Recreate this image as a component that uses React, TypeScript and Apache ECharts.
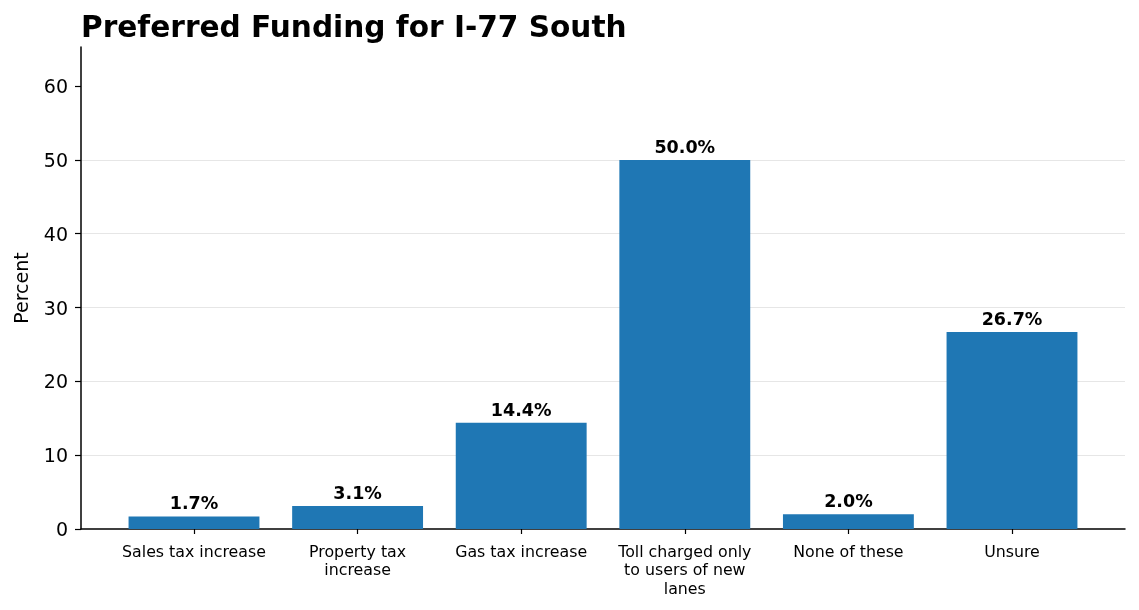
import { useEffect, useRef } from 'react';
import * as echarts from 'echarts';

const categories = [
  'Sales tax increase',
  'Property tax\nincrease',
  'Gas tax increase',
  'Toll charged only\nto users of new\nlanes',
  'None of these',
  'Unsure',
];
const percents = [1.7, 3.1, 14.4, 50.0, 2.0, 26.7];
const yTicks = [0, 10, 20, 30, 40, 50, 60];
const yMax = 65.3;

const FONT = 'DejaVu Sans';

export default function App() {
  const chartRef = useRef<HTMLDivElement>(null);

  useEffect(() => {
    if (!chartRef.current) return;
    const chart = echarts.init(chartRef.current, null, { renderer: 'svg' });

    chart.setOption({
      animation: false,
      textStyle: { fontFamily: FONT },
      title: {
        text: 'Preferred Funding for I-77 South',
        left: 76,
        top: 7,
        textStyle: { fontFamily: FONT, fontSize: 29.6, fontWeight: 'bold', color: '#000' },
      },
      grid: [
        { left: 81, right: 14, top: 47, bottom: 81 },
        { left: 112.2, right: 45.2, top: 47, bottom: 81 },
      ],
      xAxis: [
        {
          type: 'value',
          gridIndex: 0,
          min: 0,
          max: 1,
          axisLine: { show: true, lineStyle: { color: '#000', width: 1.5 } },
          axisTick: { show: false },
          axisLabel: { show: false },
          splitLine: { show: false },
        },
        {
          type: 'category',
          gridIndex: 1,
          data: categories,
          axisLine: { show: false },
          axisTick: { show: true, alignWithLabel: true, length: 5, lineStyle: { color: '#000', width: 1.2 } },
          axisLabel: {
            interval: 0,
            margin: 13,
            fontSize: 15.8,
            lineHeight: 18.5,
            color: '#000',
            fontFamily: FONT,
          },
        },
      ],
      yAxis: [
        {
          type: 'value',
          gridIndex: 0,
          min: 0,
          max: yMax,
          interval: 10,
          name: 'Percent',
          nameLocation: 'middle',
          nameGap: 51,
          nameTextStyle: { fontSize: 19, color: '#000', fontFamily: FONT },
          axisLine: { show: true, lineStyle: { color: '#000', width: 1.5 } },
          axisTick: { show: true, length: 6, customValues: yTicks, lineStyle: { color: '#000', width: 1.2 } },
          axisLabel: { fontSize: 19, color: '#000', margin: 13, fontFamily: FONT, customValues: yTicks },
          splitLine: { show: true, showMaxLine: false, showMinLine: false, lineStyle: { color: '#e6e6e6', width: 1 } },
        },
        {
          type: 'value',
          gridIndex: 1,
          min: 0,
          max: yMax,
          show: false,
          splitLine: { show: false },
        },
      ],
      series: [
        {
          type: 'bar',
          xAxisIndex: 1,
          yAxisIndex: 1,
          data: percents,
          barWidth: '80%',
          itemStyle: { color: '#1f77b4' },
          label: {
            show: true,
            position: 'top',
            distance: 4,
            formatter: (p: any) => `${Number(p.value).toFixed(1)}%`,
            fontSize: 17.5,
            fontWeight: 'bold',
            color: '#000',
            fontFamily: FONT,
          },
        },
      ],
    });

    return () => {
      chart.dispose();
    };
  }, []);

  return (
    <div
      ref={chartRef}
      style={{ position: 'fixed', left: 0, top: 0, width: 1139, height: 610 }}
    />
  );
}
